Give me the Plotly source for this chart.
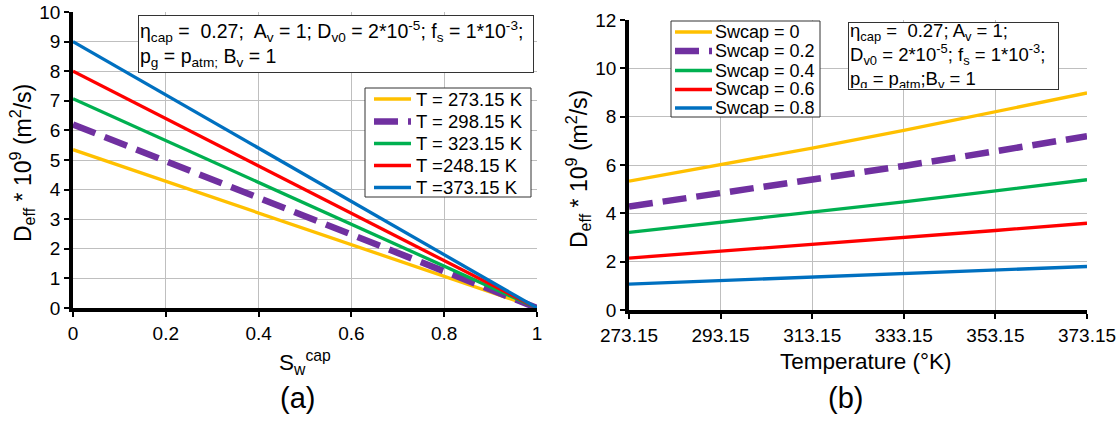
import plotly.graph_objects as go

W, H = 1116, 421
FONT = "Liberation Sans, Arial, sans-serif"

# ---- panel (a): effective diffusivity vs capillary water saturation ----
sw_cap = [0.0, 0.2, 0.4, 0.6, 0.8, 1.0]
deff_t273 = [5.35, 4.28, 3.21, 2.14, 1.07, 0.0]
deff_t298 = [6.20, 4.96, 3.72, 2.48, 1.24, 0.0]
deff_t323 = [7.07, 5.66, 4.24, 2.83, 1.41, 0.0]
deff_t348 = [8.00, 6.40, 4.80, 3.20, 1.60, 0.0]
deff_t373 = [9.00, 7.20, 5.40, 3.60, 1.80, 0.0]
labels_a = ["T = 273.15 K", "T = 298.15 K", "T = 323.15 K", "T =248.15 K", "T =373.15 K"]

# ---- panel (b): effective diffusivity vs temperature ----
temps = [273.15, 293.15, 313.15, 333.15, 353.15, 373.15]
temp_ticks = ["273.15", "293.15", "313.15", "333.15", "353.15", "373.15"]
deff_s00 = [5.33, 6.02, 6.70, 7.43, 8.21, 8.98]
deff_s02 = [4.28, 4.83, 5.38, 5.96, 6.57, 7.19]
deff_s04 = [3.21, 3.62, 4.04, 4.47, 4.93, 5.39]
deff_s06 = [2.15, 2.43, 2.70, 2.99, 3.29, 3.59]
deff_s08 = [1.07, 1.21, 1.35, 1.50, 1.65, 1.80]
labels_b = ["Swcap = 0", "Swcap = 0.2", "Swcap = 0.4", "Swcap = 0.6", "Swcap = 0.8"]

colors = ["#FFC000", "#7030A0", "#00B050", "#FF0000", "#0070C0"]


def px(x):
    return x / W


def py(y):
    return 1 - y / H


def style(i):
    if i == 1:
        return dict(color=colors[i], width=6.5, dash="24px,10px")
    return dict(color=colors[i], width=3.3)


fig = go.Figure()

for i, ys in enumerate([deff_t273, deff_t298, deff_t323, deff_t348, deff_t373]):
    fig.add_trace(go.Scatter(x=sw_cap, y=ys, mode="lines", name=labels_a[i],
                             line=style(i), xaxis="x", yaxis="y", showlegend=False))

for i, ys in enumerate([deff_s00, deff_s02, deff_s04, deff_s06, deff_s08]):
    fig.add_trace(go.Scatter(x=temps, y=ys, mode="lines", name=labels_b[i],
                             line=style(i), xaxis="x2", yaxis="y2", showlegend=False))

axis_common = dict(
    showgrid=True, gridcolor="#BFBFBF", gridwidth=1,
    showline=True, linecolor="black", linewidth=3.5,
    ticks="outside", ticklen=5, tickwidth=2, tickcolor="black",
    tickfont=dict(family=FONT, size=19, color="black"),
    zeroline=False, mirror=False, automargin=False,
    ticklabeloverflow="allow",
)

fig.update_layout(
    width=W, height=H,
    margin=dict(l=0, r=0, t=0, b=0),
    paper_bgcolor="white", plot_bgcolor="white",
    font=dict(family=FONT, color="black"),
    xaxis=dict(domain=[px(73), px(537)], range=[0, 1], tickvals=sw_cap,
               ticktext=["0", "0.2", "0.4", "0.6", "0.8", "1"], anchor="y", **axis_common),
    yaxis=dict(domain=[py(308), py(12)], range=[0, 10], dtick=1, anchor="x", **axis_common),
    xaxis2=dict(domain=[px(629), px(1087)], range=[273.15, 373.15], tickvals=temps,
                ticktext=temp_ticks, anchor="y2", **axis_common),
    yaxis2=dict(domain=[py(310), py(20)], range=[0, 12], dtick=2, anchor="x2", **axis_common),
    showlegend=False,
)

shapes = []
annotations = []


def legend_box(x0, y0, x1, y1, rows, labels, line_x0, line_x1, text_x, size):
    shapes.append(dict(type="rect", xref="paper", yref="paper",
                       x0=px(x0), x1=px(x1), y0=py(y1), y1=py(y0),
                       line=dict(color="#333333", width=1), fillcolor="white", layer="above"))
    for i, (yr, lab) in enumerate(zip(rows, labels)):
        shapes.append(dict(type="line", xref="paper", yref="paper",
                           x0=px(line_x0), x1=px(line_x1), y0=py(yr), y1=py(yr),
                           line=style(i), layer="above"))
        annotations.append(dict(text=lab, x=px(text_x), y=py(yr), xanchor="left",
                                yanchor="middle", font=dict(size=size)))


legend_box(365, 88, 531, 197, [99, 121.5, 143.5, 165.5, 187.5], labels_a, 374, 411, 414, 18.5)
legend_box(671, 21, 820, 117, [32, 51, 70.5, 89.5, 108], labels_b, 675, 712, 713, 18)

note_a = ("η<sub>cap</sub> =  0.27;  A<sub>v</sub> = 1; D<sub>v0</sub> = 2*10<sup>-5</sup>; "
          "f<sub>s</sub> = 1*10<sup>-3</sup>;<br>p<sub>g</sub> = p<sub>atm;</sub> B<sub>v</sub> = 1")
note_b = ("η<sub>cap</sub> =  0.27; A<sub>v</sub> = 1;<br>"
          "D<sub>v0</sub> = 2*10<sup>-5</sup>; f<sub>s</sub> = 1*10<sup>-3</sup>;<br>"
          "p<sub>g</sub> = p<sub>atm</sub>;B<sub>v</sub> = 1")

annotations += [
    dict(text=note_a, x=px(138), y=py(15), xanchor="left", yanchor="top",
         width=392, height=54, align="left", valign="middle",
         bgcolor="white", bordercolor="#333333", borderwidth=1, borderpad=1,
         font=dict(size=19.5)),
    dict(text=note_b, x=px(848), y=py(22), xanchor="left", yanchor="top",
         width=207, height=64, align="left", valign="middle",
         bgcolor="white", bordercolor="#333333", borderwidth=1, borderpad=1,
         font=dict(size=18.5)),
    # axis titles and panel captions
    dict(text="S<sub>w</sub><sup>cap</sup>", x=px(305), y=py(362), font=dict(size=22.5)),
    dict(text="(a)", x=px(297), y=py(398), font=dict(size=29)),
    dict(text="Temperature (°K)", x=px(866), y=py(361), font=dict(size=22.5)),
    dict(text="(b)", x=px(845), y=py(398), font=dict(size=29)),
    dict(text="D<sub>eff</sub> * 10<sup>9</sup> (m<sup>2</sup>/s)", x=px(22), y=py(163),
         textangle=-90, font=dict(size=23)),
    dict(text="D<sub>eff</sub> * 10<sup>9</sup> (m<sup>2</sup>/s)", x=px(578), y=py(169),
         textangle=-90, font=dict(size=23)),
]
for a in annotations:
    a.setdefault("xref", "paper")
    a.setdefault("yref", "paper")
    a.setdefault("showarrow", False)
    a.setdefault("xanchor", "center")
    a.setdefault("yanchor", "middle")
fig.update_layout(annotations=annotations, shapes=shapes)

fig.write_html("out.html")
